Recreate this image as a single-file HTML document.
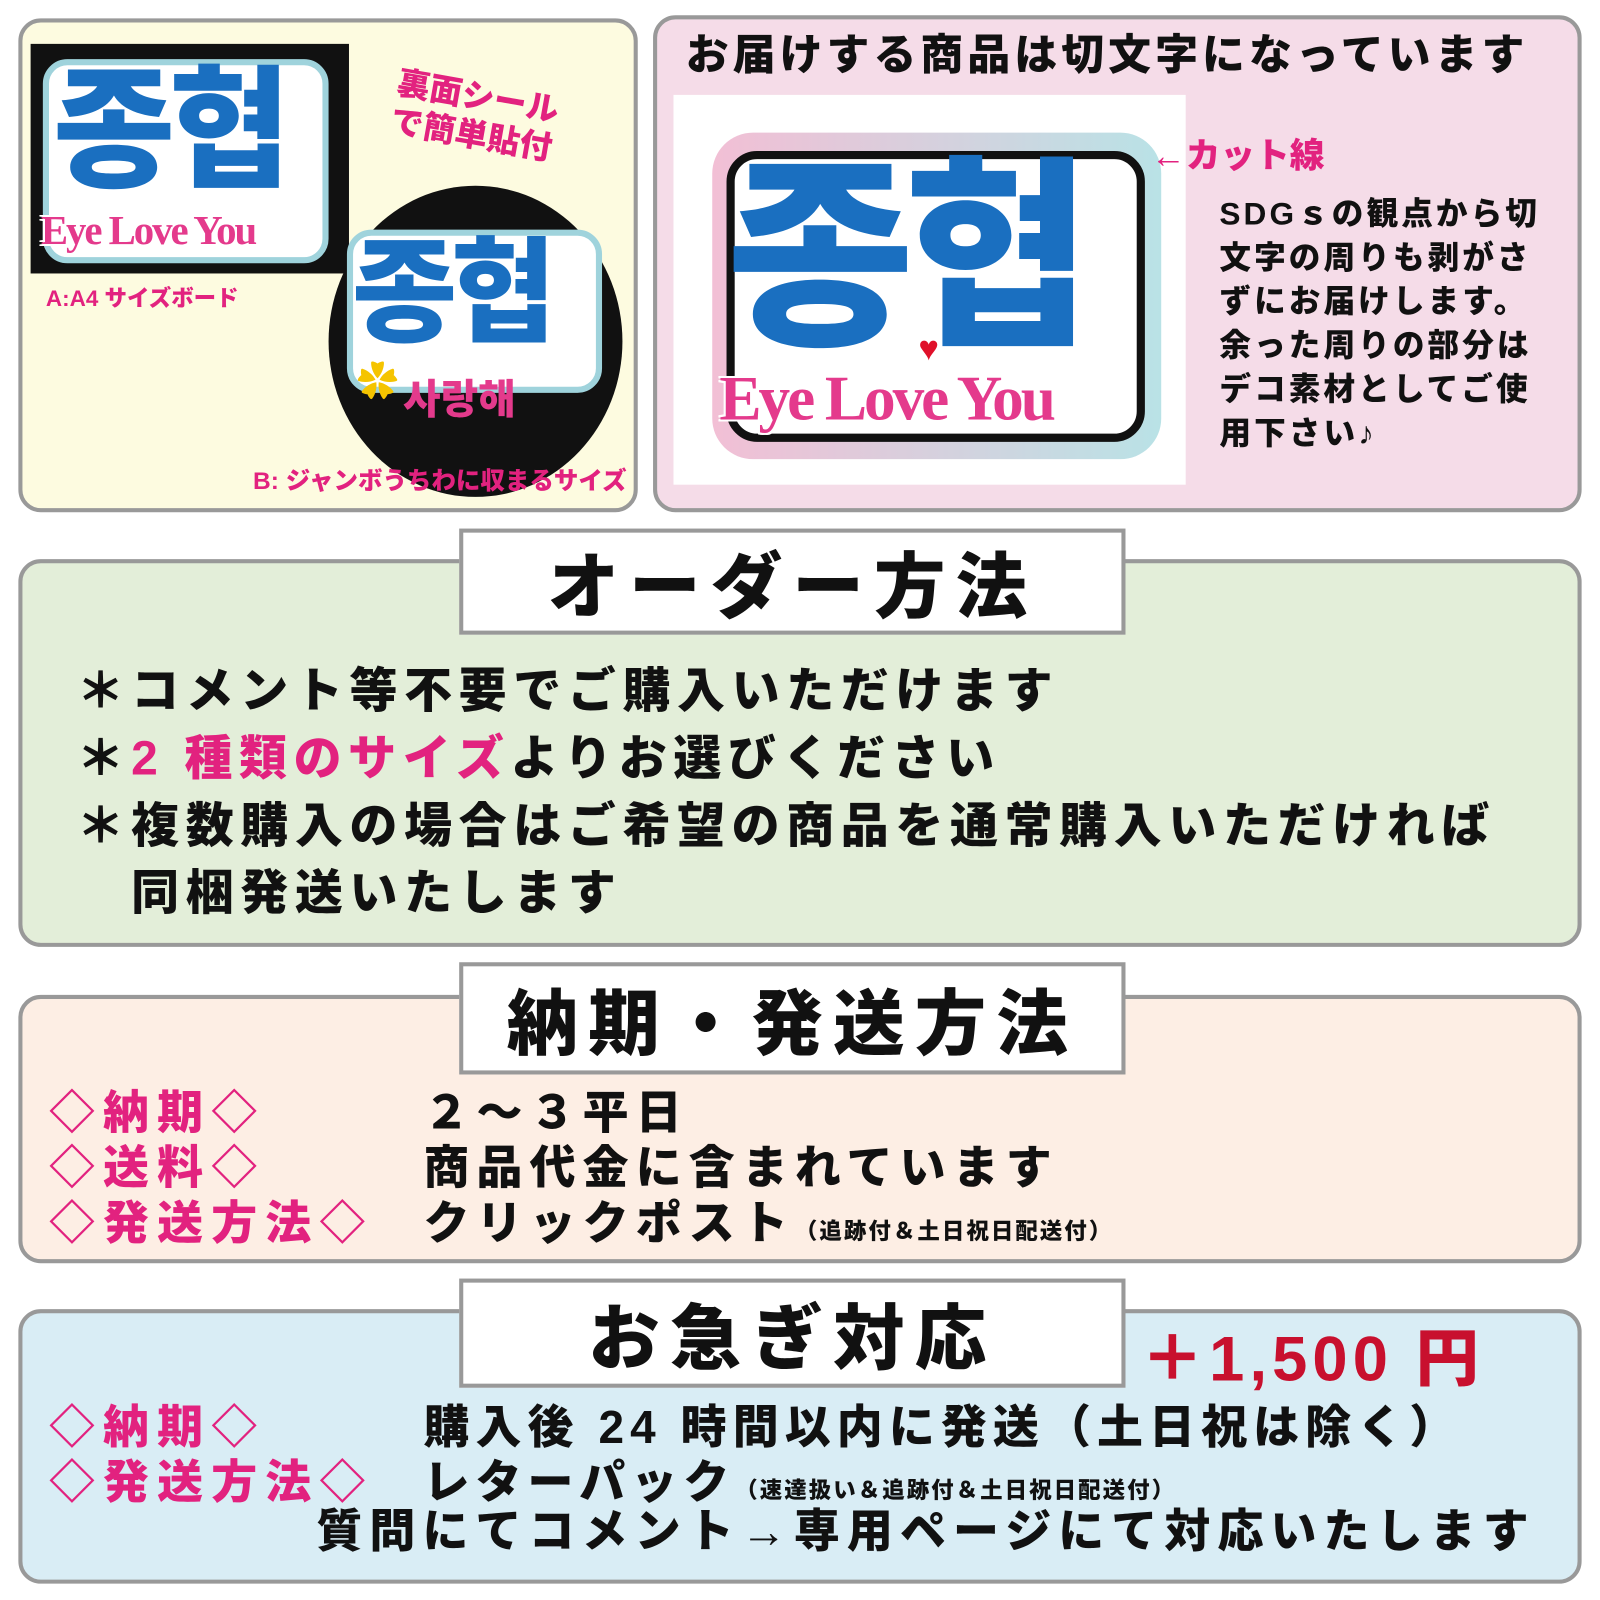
<!DOCTYPE html>
<html><head><meta charset="utf-8"><style>
*{margin:0;padding:0;box-sizing:border-box}
body{width:1600px;height:1600px;background:#fff;position:relative;overflow:hidden;font-family:"Liberation Sans","Noto Sans CJK JP",sans-serif;font-weight:900}
#w{position:absolute;left:0;top:0;width:1568px;height:1568px;transform:scale(1.0204);transform-origin:0 0}
.p{position:absolute;border:4px solid #999;border-radius:22px}
.t{position:absolute;white-space:nowrap;line-height:1}
.tb{position:absolute;background:#fff;border:4px solid #999;display:flex;align-items:center;justify-content:center;font-size:70px;color:#111;letter-spacing:10px}
.pk{color:#e2227f}
.ko{font-family:"Noto Sans CJK KR",sans-serif;font-weight:900;color:#1a6fc0}
.ely{font-family:"Liberation Serif",serif;font-weight:900;color:#e43a8c;text-shadow:2px 2px 0 #fff,-2px -2px 0 #fff,2px -2px 0 #fff,-2px 2px 0 #fff}
</style></head><body><div id="w">

<!-- Panel 1 -->
<div class="p" style="left:18px;top:18px;width:607px;height:484px;background:#fdfbe0"></div>
<div style="position:absolute;left:30px;top:43px;width:312px;height:225px;background:#111"></div>
<div style="position:absolute;left:42px;top:58px;width:280px;height:200px;background:#fff;border-radius:24px;border:6px solid #9fd3dc"></div>
<div class="t ko" style="left:52px;top:52px;font-size:130px;letter-spacing:-6px">종협</div>
<div class="t ely" style="left:40px;top:206px;font-size:40px;letter-spacing:-2px">Eye Love You</div>
<div style="position:absolute;left:322px;top:182px;width:288px;height:305px;background:#111;border-radius:50%"></div>
<div style="position:absolute;left:340px;top:225px;width:250px;height:160px;background:#fff;border-radius:24px;border:6px solid #9fd3dc"></div>
<div class="t ko" style="left:345px;top:222px;font-size:112px;letter-spacing:-6px">종협</div>
<div class="t" style="left:395px;top:368px;font-size:40px;color:#e43a8c;font-family:'Noto Sans CJK KR',sans-serif">사랑해</div>
<div class="t" style="left:350px;top:355px;font-size:40px;color:#f5c400">✿</div>
<div class="t pk" style="left:393px;top:62px;font-size:32px;transform:rotate(10deg);transform-origin:left top;line-height:1.2">裏面シール<br>で簡単貼付</div>
<div class="t pk" style="left:45px;top:282px;font-size:22px">A:A4 サイズボード</div>
<div class="t pk" style="left:248px;top:460px;font-size:24px">B: ジャンボうちわに収まるサイズ</div>

<!-- Panel 2 -->
<div class="p" style="left:640px;top:15px;width:910px;height:487px;background:#f5dce8"></div>
<div class="t" style="left:672px;top:33px;font-size:42px;color:#111;letter-spacing:4px">お届けする商品は切文字になっています</div>
<div style="position:absolute;left:660px;top:93px;width:502px;height:382px;background:#fff"></div>
<div style="position:absolute;left:698px;top:130px;width:440px;height:320px;border-radius:40px;background:linear-gradient(90deg,#f2bfd5,#b9e2e6)"></div>
<div style="position:absolute;left:712px;top:148px;width:410px;height:285px;border-radius:30px;background:#fff;border:8px solid #111"></div>
<div class="t ko" style="left:712px;top:135px;font-size:200px;letter-spacing:-10px">종협</div>
<div class="t ely" style="left:705px;top:360px;font-size:62px;letter-spacing:-3px">Eye Love You</div>
<div class="t" style="left:900px;top:325px;font-size:34px;color:#e0102a">♥</div>
<div class="t pk" style="left:1128px;top:136px;font-size:34px">←カット線</div>
<div class="t" style="left:1195px;top:188px;font-size:31px;color:#111;line-height:43px;letter-spacing:3px">SDGｓの観点から切<br>文字の周りも剥がさ<br>ずにお届けします。<br>余った周りの部分は<br>デコ素材としてご使<br>用下さい♪</div>

<!-- Panel 3 -->
<div class="p" style="left:18px;top:548px;width:1532px;height:380px;background:#e3eed9"></div>
<div class="tb" style="left:450px;top:518px;width:653px;height:104px">オーダー方法</div>
<div class="t" style="left:75px;top:644px;font-size:47px;color:#111;line-height:66px;letter-spacing:6.5px">＊コメント等不要でご購入いただけます<br>＊<span class="pk">2 種類のサイズ</span>よりお選びください<br>＊複数購入の場合はご希望の商品を通常購入いただければ<br>　同梱発送いたします</div>

<!-- Panel 4 -->
<div class="p" style="left:18px;top:975px;width:1532px;height:263px;background:#fdeee4"></div>
<div class="tb" style="left:450px;top:943px;width:653px;height:110px">納期・発送方法</div>
<div class="t pk" style="left:48px;top:1064px;font-size:45px;line-height:54px;letter-spacing:8px">◇納期◇<br>◇送料◇<br>◇発送方法◇</div>
<div class="t" style="left:415px;top:1064px;font-size:45px;line-height:54px;color:#111;letter-spacing:7px">２～３平日<br>商品代金に含まれています<br>クリックポスト<span style="font-size:22px;letter-spacing:2px">（追跡付＆土日祝日配送付）</span></div>

<!-- Panel 5 -->
<div class="p" style="left:18px;top:1283px;width:1532px;height:269px;background:#d9edf5"></div>
<div class="tb" style="left:450px;top:1253px;width:653px;height:107px">お急ぎ対応</div>
<div class="t" style="left:1118px;top:1302px;font-size:62px;color:#c8102e;letter-spacing:5px">＋1,500 円</div>
<div class="t pk" style="left:48px;top:1372px;font-size:45px;line-height:54px;letter-spacing:8px">◇納期◇<br>◇発送方法◇</div>
<div class="t" style="left:415px;top:1372px;font-size:45px;line-height:54px;color:#111;letter-spacing:6px">購入後 24 時間以内に発送（土日祝は除く）<br>レターパック<span style="font-size:22px;letter-spacing:2px">（速達扱い＆追跡付＆土日祝日配送付）</span></div>
<div class="t" style="left:310px;top:1478px;font-size:45px;color:#111;letter-spacing:7px">質問にてコメント→専用ページにて対応いたします</div>
</div></body></html>
